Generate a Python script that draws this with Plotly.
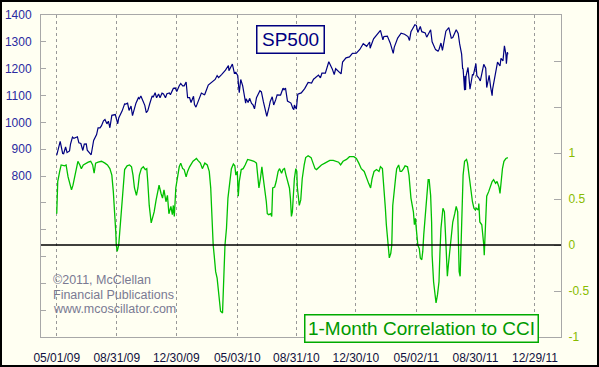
import plotly.graph_objects as go

# ---------------- data ----------------
sp_dates = [
"2009-05-01","2009-05-06","2009-05-08","2009-05-13","2009-05-15","2009-05-19","2009-05-22","2009-05-27","2009-05-29",
"2009-06-02","2009-06-05","2009-06-12","2009-06-15","2009-06-19","2009-06-23","2009-06-26","2009-06-30",
"2009-07-02","2009-07-08","2009-07-10","2009-07-15","2009-07-17","2009-07-21","2009-07-24","2009-07-28","2009-07-31",
"2009-08-04","2009-08-07","2009-08-11","2009-08-14","2009-08-17","2009-08-21","2009-08-25","2009-08-28",
"2009-09-02","2009-09-04","2009-09-11","2009-09-16","2009-09-18","2009-09-22","2009-09-25","2009-09-29",
"2009-10-02","2009-10-09","2009-10-14","2009-10-16","2009-10-19","2009-10-23","2009-10-27","2009-10-30",
"2009-11-02","2009-11-06","2009-11-11","2009-11-13","2009-11-17","2009-11-20","2009-11-24","2009-11-27",
"2009-12-01","2009-12-04","2009-12-08","2009-12-11","2009-12-16","2009-12-18","2009-12-24","2009-12-28","2009-12-31",
"2010-01-05","2010-01-08","2010-01-12","2010-01-15","2010-01-19","2010-01-22","2010-01-26","2010-01-29",
"2010-02-03","2010-02-05","2010-02-08","2010-02-12","2010-02-17","2010-02-19","2010-02-25","2010-02-26",
"2010-03-05","2010-03-12","2010-03-19","2010-03-23","2010-03-26",
"2010-04-01","2010-04-09","2010-04-15","2010-04-16","2010-04-23","2010-04-27","2010-04-30",
"2010-05-04","2010-05-06","2010-05-07","2010-05-10","2010-05-14","2010-05-20","2010-05-21","2010-05-25","2010-05-28",
"2010-06-01","2010-06-04","2010-06-07","2010-06-11","2010-06-18","2010-06-21","2010-06-25","2010-06-29",
"2010-07-02","2010-07-07","2010-07-09","2010-07-13","2010-07-16","2010-07-20","2010-07-23","2010-07-30",
"2010-08-04","2010-08-06","2010-08-09","2010-08-13","2010-08-20","2010-08-24","2010-08-26","2010-08-27","2010-08-31",
"2010-09-03","2010-09-10","2010-09-17","2010-09-24",
"2010-10-01","2010-10-05","2010-10-08","2010-10-15","2010-10-19","2010-10-22","2010-10-29",
"2010-11-05","2010-11-12","2010-11-16","2010-11-19","2010-11-26","2010-11-30",
"2010-12-03","2010-12-10","2010-12-17","2010-12-23","2010-12-31",
"2011-01-07","2011-01-14","2011-01-21","2011-01-27","2011-01-28",
"2011-02-04","2011-02-11","2011-02-18","2011-02-23","2011-02-25",
"2011-03-04","2011-03-10","2011-03-16","2011-03-18","2011-03-25",
"2011-04-01","2011-04-08","2011-04-15","2011-04-18","2011-04-21","2011-04-29",
"2011-05-02","2011-05-05","2011-05-10","2011-05-13","2011-05-20","2011-05-23","2011-05-27","2011-05-31",
"2011-06-03","2011-06-10","2011-06-15","2011-06-17","2011-06-21","2011-06-24",
"2011-07-01","2011-07-07","2011-07-12","2011-07-15","2011-07-22","2011-07-26","2011-07-29",
"2011-08-02","2011-08-04","2011-08-05","2011-08-08","2011-08-09","2011-08-10","2011-08-11","2011-08-15","2011-08-18",
"2011-08-19","2011-08-24","2011-08-26","2011-08-31",
"2011-09-02","2011-09-06","2011-09-09","2011-09-16","2011-09-20","2011-09-22","2011-09-27","2011-09-30",
"2011-10-03","2011-10-04","2011-10-07","2011-10-14","2011-10-19","2011-10-21","2011-10-25","2011-10-27","2011-10-28","2011-10-31",
"2011-11-01","2011-11-02","2011-11-03","2011-11-04",
]
sp_values = [
877.5,919.5,929.2,883.9,882.9,908.1,887.0,893.1,919.1,
944.7,940.1,946.2,923.7,921.2,895.1,918.9,919.3,
896.4,879.6,879.1,932.7,940.4,954.6,979.3,979.6,987.5,
1005.7,1010.5,994.4,1004.1,979.7,1026.1,1028.1,1028.9,
994.8,1016.4,1042.7,1068.8,1068.3,1071.7,1044.4,1060.6,
1025.2,1071.5,1092.0,1087.7,1097.9,1079.6,1063.4,1036.2,
1042.9,1069.3,1098.5,1093.5,1110.3,1091.4,1105.7,1091.5,
1108.9,1106.0,1091.9,1106.4,1109.2,1102.5,1126.5,1127.8,1115.1,
1136.5,1145.0,1136.2,1136.0,1150.2,1091.8,1092.2,1073.9,
1097.3,1066.2,1056.7,1075.5,1099.5,1109.2,1102.9,1104.5,
1138.7,1150.0,1159.9,1174.2,1166.6,
1178.1,1194.4,1211.7,1192.1,1217.3,1183.7,1186.7,
1173.6,1128.2,1110.9,1159.7,1135.7,1071.6,1087.7,1074.0,1089.4,
1070.7,1064.9,1050.5,1091.6,1117.5,1113.2,1076.8,1041.2,
1022.6,1060.3,1078.0,1095.3,1064.9,1083.5,1102.7,1101.6,
1127.2,1121.6,1127.8,1079.3,1071.7,1051.9,1047.2,1064.6,1049.3,
1104.5,1109.6,1125.6,1148.7,
1146.2,1160.8,1165.2,1176.2,1165.9,1183.1,1183.3,
1225.9,1199.2,1178.3,1199.7,1189.4,1180.6,
1224.7,1240.4,1243.9,1256.8,1257.6,
1271.5,1293.2,1283.4,1299.5,1276.3,
1310.9,1329.2,1343.0,1307.4,1319.9,
1321.2,1295.1,1256.9,1279.2,1313.8,
1332.4,1328.2,1319.7,1305.1,1337.4,1363.6,
1361.2,1335.1,1357.2,1337.8,1333.3,1317.4,1331.1,1345.2,
1300.2,1271.0,1265.4,1271.5,1295.5,1268.5,
1339.7,1353.2,1313.6,1316.1,1345.0,1331.3,1292.3,
1254.0,1200.1,1199.4,1119.5,1172.5,1120.8,1172.6,1204.5,1140.7,
1123.5,1177.6,1176.8,1218.9,
1174.0,1165.2,1154.2,1216.0,1202.1,1129.6,1175.4,1131.4,
1099.2,1124.0,1155.5,1224.6,1209.9,1238.3,1229.1,1284.6,1285.1,1253.3,
1218.3,1237.9,1261.2,1253.2,
]

corr_dates = [
"2009-05-01","2009-05-03","2009-05-07","2009-05-10","2009-05-17","2009-05-20","2009-05-24","2009-05-29","2009-05-31",
"2009-06-03","2009-06-07","2009-06-10","2009-06-13","2009-06-17","2009-06-20","2009-06-24","2009-06-29",
"2009-07-04","2009-07-09","2009-07-13","2009-07-16","2009-07-19","2009-07-24","2009-07-31",
"2009-08-07","2009-08-12","2009-08-17","2009-08-21","2009-08-24","2009-08-27","2009-08-29","2009-08-30",
"2009-09-01","2009-09-04","2009-09-06","2009-09-09","2009-09-13","2009-09-16","2009-09-21","2009-09-26","2009-09-30",
"2009-10-03","2009-10-06","2009-10-10","2009-10-13","2009-10-16","2009-10-20","2009-10-24","2009-10-28","2009-10-31",
"2009-11-02","2009-11-05","2009-11-09","2009-11-12","2009-11-15","2009-11-19","2009-11-22","2009-11-25","2009-11-29",
"2009-12-02","2009-12-05","2009-12-09","2009-12-12","2009-12-15","2009-12-19","2009-12-22","2009-12-24","2009-12-26","2009-12-29",
"2010-01-02","2010-01-05","2010-01-08","2010-01-12","2010-01-15","2010-01-19","2010-01-22","2010-01-26",
"2010-02-02","2010-02-09","2010-02-12","2010-02-17","2010-02-21","2010-02-26",
"2010-03-03","2010-03-07","2010-03-10","2010-03-12","2010-03-15","2010-03-17","2010-03-20","2010-03-23","2010-03-26","2010-03-30",
"2010-04-03","2010-04-04","2010-04-06","2010-04-08","2010-04-11","2010-04-14","2010-04-18","2010-04-21","2010-04-25","2010-04-28","2010-04-30",
"2010-05-03","2010-05-05","2010-05-07","2010-05-11","2010-05-15","2010-05-19","2010-05-24","2010-05-31",
"2010-06-06","2010-06-11","2010-06-14","2010-06-16","2010-06-19","2010-06-22","2010-06-24","2010-06-28",
"2010-07-01","2010-07-03","2010-07-06","2010-07-10","2010-07-12","2010-07-14","2010-07-18","2010-07-21","2010-07-25","2010-07-28",
"2010-08-01","2010-08-04","2010-08-07","2010-08-10","2010-08-13","2010-08-17","2010-08-19","2010-08-21","2010-08-23","2010-08-25","2010-08-27","2010-08-30",
"2010-09-01","2010-09-02","2010-09-04","2010-09-06","2010-09-09","2010-09-12","2010-09-16","2010-09-19","2010-09-24","2010-09-30",
"2010-10-04","2010-10-08","2010-10-11","2010-10-16","2010-10-21","2010-10-28",
"2010-11-07","2010-11-14","2010-11-21","2010-11-25","2010-11-29",
"2010-12-04","2010-12-11","2010-12-17","2010-12-26","2010-12-31",
"2011-01-05","2011-01-10","2011-01-16","2011-01-21","2011-01-25","2011-01-29",
"2011-02-01","2011-02-05","2011-02-10","2011-02-15","2011-02-18","2011-02-22","2011-02-23","2011-02-26","2011-02-28",
"2011-03-02","2011-03-06","2011-03-08","2011-03-11","2011-03-13","2011-03-15","2011-03-18","2011-03-21","2011-03-23","2011-03-27","2011-03-30",
"2011-04-02","2011-04-06","2011-04-09","2011-04-14","2011-04-17","2011-04-21","2011-04-24","2011-04-26","2011-04-28","2011-04-30",
"2011-05-03","2011-05-05","2011-05-08","2011-05-10","2011-05-13","2011-05-15","2011-05-17","2011-05-20","2011-05-23","2011-05-26","2011-05-28","2011-05-31",
"2011-06-02","2011-06-03","2011-06-06","2011-06-09","2011-06-11","2011-06-14","2011-06-17","2011-06-19","2011-06-21","2011-06-25","2011-06-28","2011-06-30",
"2011-07-02","2011-07-04","2011-07-06","2011-07-09","2011-07-12","2011-07-15","2011-07-19","2011-07-22","2011-07-25","2011-07-26","2011-07-28","2011-07-30",
"2011-08-01","2011-08-03","2011-08-05","2011-08-08","2011-08-12","2011-08-14","2011-08-18","2011-08-21","2011-08-24","2011-08-27","2011-08-30",
"2011-09-01","2011-09-05","2011-09-06","2011-09-08","2011-09-12","2011-09-14","2011-09-16","2011-09-17","2011-09-19","2011-09-22","2011-09-26","2011-09-29",
"2011-10-03","2011-10-06","2011-10-10","2011-10-13","2011-10-17","2011-10-19","2011-10-21","2011-10-24","2011-10-27","2011-10-31",
"2011-11-04",
]
corr_values = [
0.34,0.69,0.80,0.87,0.86,0.87,0.74,0.63,0.60,
0.65,0.76,0.85,0.91,0.87,0.83,0.87,0.89,
0.90,0.91,0.87,0.78,0.89,0.90,0.91,
0.89,0.87,0.83,0.76,0.58,0.36,0.14,0.00,
-0.07,0.00,0.14,0.43,0.69,0.82,0.86,0.87,0.85,
0.76,0.62,0.54,0.62,0.76,0.83,0.85,0.82,0.83,
0.69,0.43,0.24,0.29,0.36,0.49,0.58,0.65,0.56,
0.51,0.60,0.47,0.54,0.34,0.42,0.33,0.43,0.31,0.62,
0.76,0.85,0.89,0.83,0.82,0.74,0.80,0.85,
0.91,0.94,0.92,0.89,0.83,0.89,
0.87,0.80,0.62,0.29,0.00,-0.11,-0.29,-0.36,-0.52,-0.72,
-0.74,-0.51,-0.29,0.00,0.18,0.51,0.69,0.83,0.88,0.86,0.76,
0.80,0.53,0.69,0.82,0.83,0.87,0.93,0.92,
0.91,0.89,0.76,0.62,0.72,0.85,0.76,0.62,
0.47,0.34,0.33,0.34,0.31,0.62,0.63,0.69,0.80,0.83,
0.78,0.82,0.83,0.76,0.69,0.62,0.51,0.31,0.36,0.62,0.72,0.83,
0.80,0.63,0.51,0.43,0.49,0.72,0.87,0.95,0.97,0.95,
0.89,0.83,0.82,0.85,0.87,0.89,
0.92,0.92,0.91,0.90,0.87,
0.91,0.93,0.96,0.96,0.94,
0.89,0.83,0.80,0.72,0.67,0.62,
0.72,0.80,0.82,0.80,0.85,0.83,0.76,0.62,0.40,
0.22,0.00,-0.14,-0.09,0.00,0.43,0.62,0.74,0.83,0.87,0.80,
0.80,0.83,0.86,0.85,0.76,0.51,0.42,0.36,0.22,0.29,
0.11,0.00,-0.04,-0.14,-0.16,-0.07,0.11,0.29,0.51,0.71,0.71,0.54,
0.25,-0.11,-0.40,-0.51,-0.63,-0.54,-0.40,-0.07,0.18,0.40,0.36,0.14,
-0.22,-0.34,-0.22,-0.04,0.14,0.25,0.34,0.42,0.36,0.00,-0.29,-0.34,
0.00,0.51,0.76,0.91,0.93,0.89,0.72,0.54,0.47,0.40,0.38,
0.40,0.38,0.45,0.25,0.22,0.14,0.00,-0.11,0.14,0.53,0.58,0.63,
0.69,0.71,0.67,0.69,0.63,0.56,0.67,0.83,0.91,0.94,
0.95,
]

x_tick_dates = ["2009-05-01","2009-08-31","2009-12-30","2010-05-03","2010-08-31",
                "2010-12-30","2011-05-02","2011-08-30","2011-12-29"]
x_tick_labels = ["05/01/09","08/31/09","12/30/09","05/03/10","08/31/10",
                 "12/30/10","05/02/11","08/30/11","12/29/11"]
left_ticks = [200, 300, 400, 500, 600, 700, 800, 900, 1000, 1100, 1200, 1300, 1400]
left_labels = ["", "", "", "", "", "", "800", "900", "1000", "1100", "1200", "1300", "1400"]
right_ticks = [-1, -0.5, 0, 0.5, 1, 1.5, 2]
right_labels = ["-1", "-0.5", "0", "0.5", "1", "", ""]

# ---------------- figure ----------------
FONT = "Liberation Sans, Arial, sans-serif"
BG = "#FFFFF2"
W, H = 599, 367
ML, MR, MT, MB = 41, 38, 15, 30
PW, PH = W - ML - MR, H - MT - MB

fig = go.Figure()
fig.add_trace(go.Scatter(x=corr_dates, y=corr_values, mode="lines", yaxis="y2",
                         line=dict(color="#00C000", width=1.3), hoverinfo="skip"))
fig.add_trace(go.Scatter(x=sp_dates, y=sp_values, mode="lines", yaxis="y",
                         line=dict(color="#000080", width=1.2), hoverinfo="skip"))

fig.update_layout(
    width=W, height=H,
    margin=dict(l=ML, r=MR, t=MT, b=MB, pad=0, autoexpand=False),
    paper_bgcolor=BG, plot_bgcolor=BG,
    showlegend=False,
    font=dict(family=FONT, size=12),
    xaxis=dict(type="date", range=["2009-03-30", "2012-02-20"],
               tickmode="array", tickvals=x_tick_dates, ticktext=x_tick_labels,
               ticks="", showgrid=True, gridcolor="#999999", griddash="dot", gridwidth=1,
               showline=True, linecolor="#A8A8A8", linewidth=1, mirror=True,
               zeroline=False, ticklabelstandoff=10, automargin=False,
               tickfont=dict(color="#101040", size=12)),
    yaxis=dict(range=[200, 1400], tickmode="array", tickvals=left_ticks, ticktext=left_labels,
               ticks="inside", ticklen=5, tickcolor="#A8A8A8", automargin=False,
               showgrid=False, zeroline=False, ticklabelstandoff=6,
               showline=True, linecolor="#A8A8A8", linewidth=1,
               tickfont=dict(color="#2A2AA0", size=12)),
    yaxis2=dict(range=[-1, 2.5], overlaying="y", side="right", tickmode="array",
                tickvals=right_ticks, ticktext=right_labels, automargin=False,
                ticks="inside", ticklen=7, tickcolor="#A8A8A8",
                showgrid=False, zeroline=False, ticklabelstandoff=4,
                showline=True, linecolor="#A8A8A8", linewidth=1,
                tickfont=dict(color="#88BB00", size=12)),
)

# zero line of the correlation axis
fig.add_shape(type="line", xref="paper", yref="y2", x0=0, x1=1, y0=0, y1=0,
              line=dict(color="black", width=1.5))
# outer black frame
fig.add_shape(type="rect", xref="paper", yref="paper",
              x0=(1 - ML) / PW, x1=(W - 1 - ML) / PW,
              y0=1 - (H - 1 - MT) / PH, y1=1 - (1 - MT) / PH,
              line=dict(color="black", width=2), fillcolor="rgba(0,0,0,0)", layer="above")

def px(xp):
    return (xp - ML) / PW

def py(yp):
    return 1 - (yp - MT) / PH

fig.add_annotation(text="SP500", xref="paper", yref="paper", x=px(290), y=py(40),
                   xanchor="center", yanchor="middle",
                   showarrow=False, font=dict(family=FONT, size=19, color="#000080"),
                   bordercolor="#000080", borderwidth=1.5, borderpad=2, bgcolor=BG,
                   width=62, height=22)
fig.add_annotation(text="1-Month Correlation to CCI", xref="paper", yref="paper",
                   x=px(421), y=py(328), xanchor="center", yanchor="middle", showarrow=False,
                   font=dict(family=FONT, size=19, color="#009900"),
                   bordercolor="#00AA00", borderwidth=1.5, borderpad=2, bgcolor=BG,
                   width=228, height=22)

copy_lines = ["©2011, McClellan", "Financial Publications", "www.mcoscillator.com"]
for i, t in enumerate(copy_lines):
    fig.add_annotation(text=t, xref="paper", yref="paper", x=px(51), y=py(280 + 14.5 * i),
                       xanchor="left", yanchor="middle", showarrow=False,
                       font=dict(family=FONT, size=12.5, color="#7A7A92"))

fig.write_html("out.html", config={"displayModeBar": False},
               post_script="document.body.style.margin='0';document.body.style.padding='0';"
                           "document.documentElement.style.overflow='hidden';")
